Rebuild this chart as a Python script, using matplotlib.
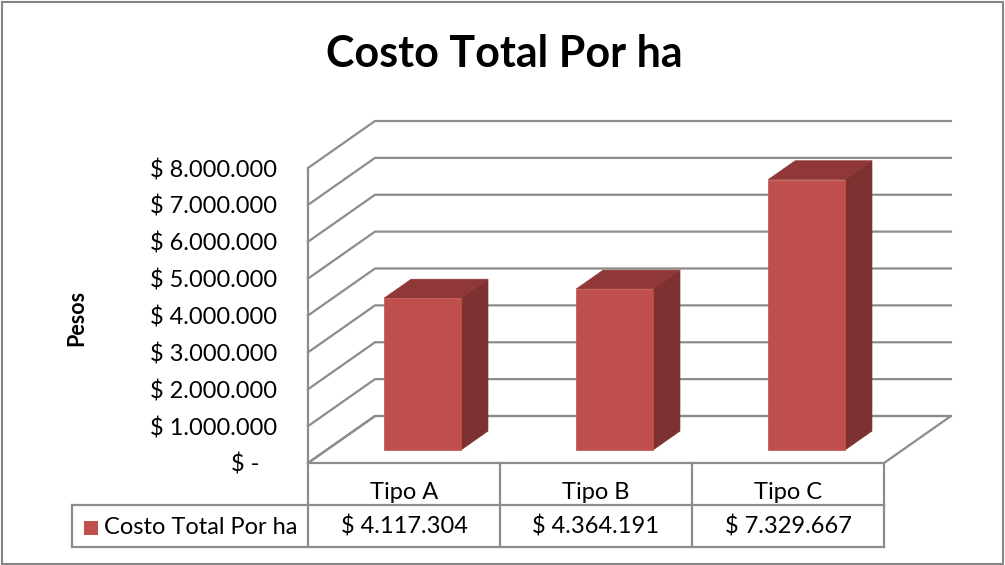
import matplotlib
matplotlib.use('Agg')
import matplotlib.pyplot as plt
from matplotlib.patches import Polygon, Rectangle
from matplotlib.lines import Line2D
from matplotlib.transforms import blended_transform_factory

# ---- data ----
categories = ['Tipo A', 'Tipo B', 'Tipo C']
values = [4117304, 4364191, 7329667]
series_name = 'Costo Total Por ha'
title = 'Costo Total Por ha'
ylabel = 'Pesos'
yticks = [0, 1000000, 2000000, 3000000, 4000000, 5000000, 6000000, 7000000, 8000000]
ytick_labels = ['$ -   ', '$ 1.000.000', '$ 2.000.000', '$ 3.000.000', '$ 4.000.000',
                '$ 5.000.000', '$ 6.000.000', '$ 7.000.000', '$ 8.000.000']


def money(v):
    return '$ ' + f'{v:,}'.replace(',', '.')


plt.rcParams['font.family'] = ['Lato', 'DejaVu Sans']

W, H = 1005, 565
fig = plt.figure(figsize=(W / 100, H / 100), dpi=100)
fig.patch.set_facecolor('white')

FS = 17

# front plane of the 3D box (pixels)
L, R, B, T = 308, 884, 463, 168
ax = fig.add_axes([L / W, 1 - B / H, (R - L) / W, (B - T) / H])
ax.set_xlim(0, len(categories))
ax.set_ylim(0, yticks[-1])
ax.set_facecolor('none')
for s in ax.spines.values():
    s.set_visible(False)
ax.set_xticks([])
ax.set_yticks(yticks, ytick_labels)
ax.tick_params(axis='y', length=0, pad=22, labelsize=FS)

# depth projection (in data units for full depth)
px_per_cat = (R - L) / len(categories)
px_per_val = (B - T) / yticks[-1]
DXD = 67 / px_per_cat
DYD = 47 / px_per_val


def P(x, v, d):
    return (x + d * DXD, v + d * DYD)


grid_c = '#8c8c8c'
n = len(categories)

# floor
floor = Polygon([P(0, 0, 0), P(n, 0, 0), P(n, 0, 1), P(0, 0, 1)], closed=True,
                facecolor='white', edgecolor=grid_c, lw=1.6, clip_on=False, zorder=1)
ax.add_patch(floor)

# gridlines on side and back walls
for v in yticks:
    pts = [P(0, v, 0), P(0, v, 1), P(n, v, 1)]
    ax.add_line(Line2D([p[0] for p in pts], [p[1] for p in pts], color=grid_c, lw=1.6,
                       clip_on=False, zorder=2, solid_joinstyle='miter'))

# front vertical axis line
ax.add_line(Line2D([0, 0], [0, yticks[-1]], color=grid_c, lw=1.6, clip_on=False, zorder=3))

# bars
d0, d1 = 0.28, 0.68
bw = 0.4
c_front, c_top, c_side = '#C0504D', '#8F3837', '#7D3130'
for i, v in enumerate(values):
    x0, x1 = i + 0.5 - bw / 2, i + 0.5 + bw / 2
    side = [P(x1, 0, d0), P(x1, 0, d1), P(x1, v, d1), P(x1, v, d0)]
    top = [P(x0, v, d0), P(x1, v, d0), P(x1, v, d1), P(x0, v, d1)]
    front = [P(x0, 0, d0), P(x1, 0, d0), P(x1, v, d0), P(x0, v, d0)]
    for poly, c in ((side, c_side), (top, c_top), (front, c_front)):
        ax.add_patch(Polygon(poly, closed=True, facecolor=c, edgecolor=c, lw=0.5,
                             clip_on=False, zorder=5))

# ---- data table ----
tr = blended_transform_factory(ax.transData, fig.transFigure)


def fy(ypx):
    return 1 - ypx / H


row1_top, row1_bot, row2_bot = 463, 505, 547
tab_c = '#8c8c8c'
for xi in range(n + 1):
    ax.add_line(Line2D([xi, xi], [fy(row1_top), fy(row2_bot)], transform=tr, color=tab_c,
                       lw=1.6, clip_on=False, zorder=3))
fig.add_artist(Line2D([72 / W, R / W], [fy(row1_bot), fy(row1_bot)], color=tab_c, lw=1.6))
fig.add_artist(Line2D([72 / W, R / W], [fy(row2_bot), fy(row2_bot)], color=tab_c, lw=1.6))
fig.add_artist(Line2D([72 / W, 72 / W], [fy(row1_bot), fy(row2_bot)], color=tab_c, lw=1.6))

for i, (c, v) in enumerate(zip(categories, values)):
    ax.text(i + 0.5, fy(499), c, transform=tr, ha='center', va='baseline', fontsize=FS)
    ax.text(i + 0.5, fy(534), money(v), transform=tr, ha='center', va='baseline', fontsize=FS)

fig.add_artist(Rectangle((84 / W, fy(535)), 14 / W, 14 / H, transform=fig.transFigure,
                         facecolor=c_front, edgecolor='none'))
fig.text(104 / W, fy(534), series_name, ha='left', va='baseline', fontsize=FS)

# title and axis title
fig.text(504 / W, fy(67), title, ha='center', va='baseline', fontsize=31, fontweight='bold')
fig.text(77 / W, fy(318), ylabel, ha='center', va='center', rotation=90, fontsize=15.5,
         fontweight='bold')

# outer border
fig.add_artist(Rectangle((2 / W, 1 / H), (W - 4) / W, (H - 3) / H, transform=fig.transFigure,
                         facecolor='none', edgecolor='#868686', lw=1.5))

fig.savefig('out.png', dpi=100, facecolor='white')
